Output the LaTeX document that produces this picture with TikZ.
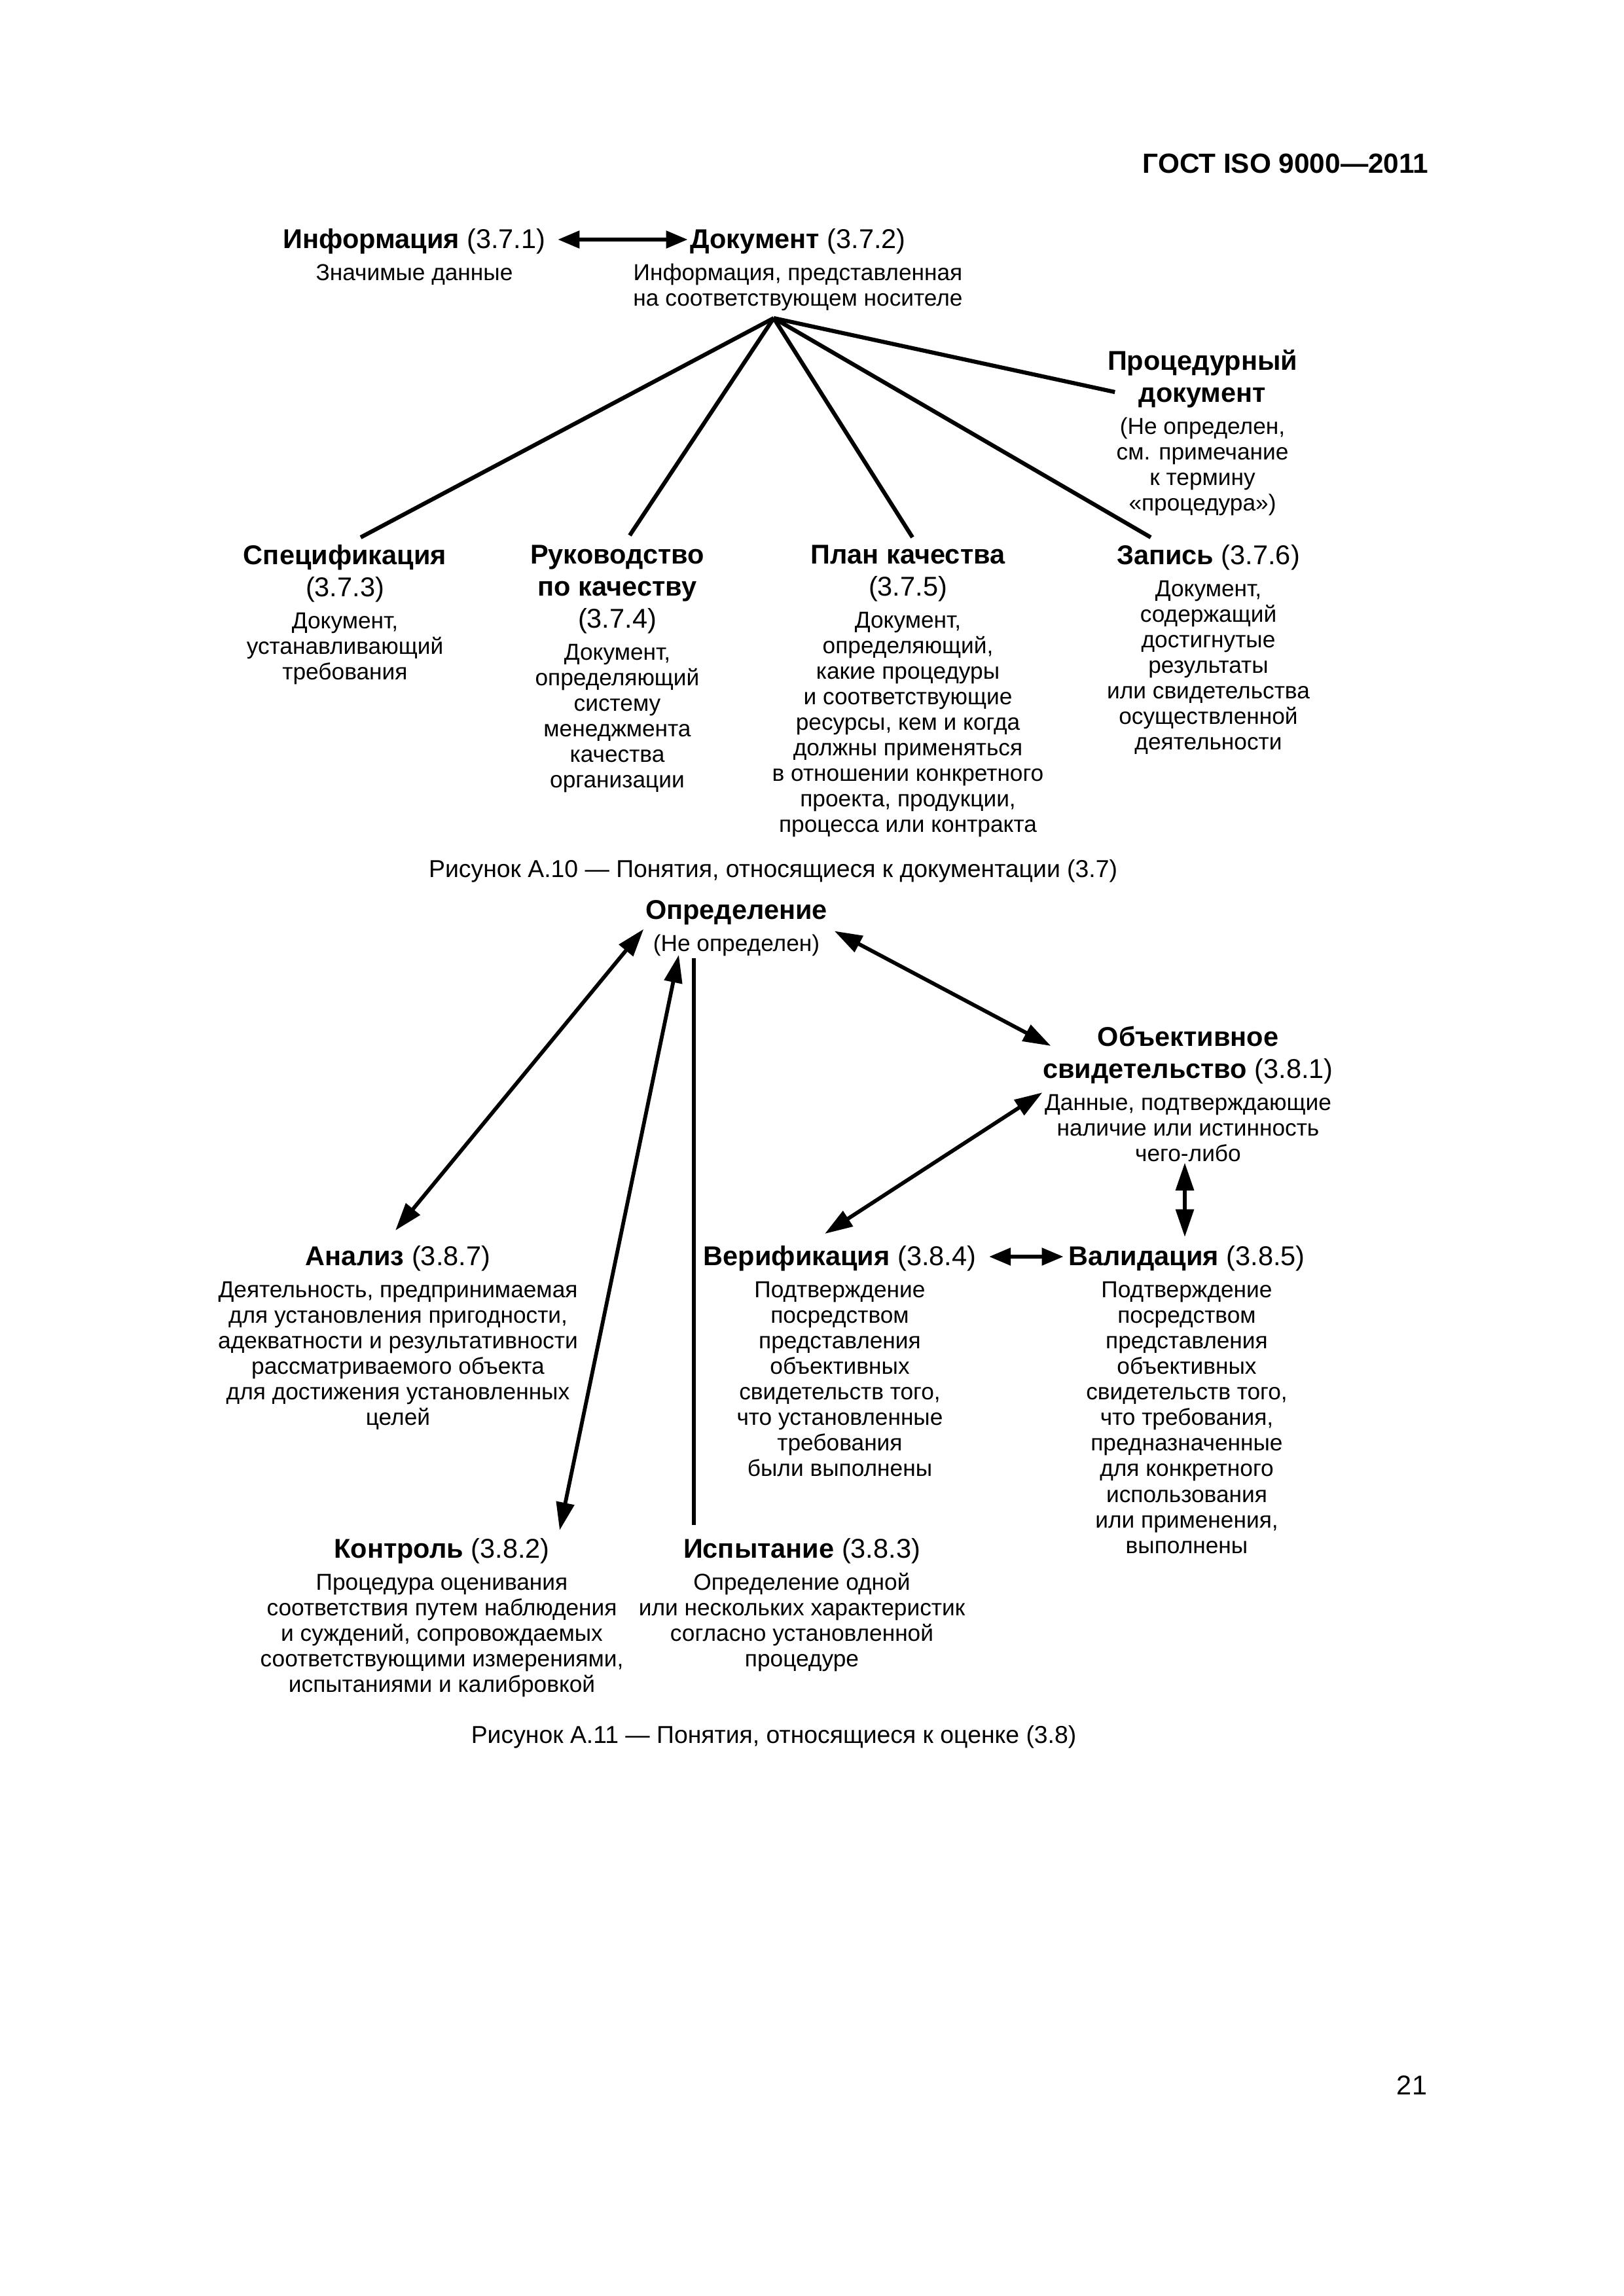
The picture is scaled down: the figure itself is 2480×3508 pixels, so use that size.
\documentclass[tikz,border=0pt]{standalone}
\usepackage{fontspec}
\setmainfont{Liberation Sans}
\usepackage{tikz}
\usetikzlibrary{arrows.meta,calc}

\newcommand{\hsz}{\fontsize{10}{12}\selectfont}
\newcommand{\bsz}{\fontsize{8.5}{9.4}\selectfont}
\newcommand{\hd}[1]{{\hsz\bfseries #1}}
\newcommand{\hdn}[2]{{\hsz\textbf{#1} #2}}
\newcommand{\cl}[1]{{\hsz #1}}

\begin{document}
\begin{tikzpicture}[x=0.0084677cm, y=-0.0084677cm,
    txt/.style={anchor=north, align=center, inner sep=0pt, font=\bsz},
    fanline/.style={line width=1.5pt},
    twoway/.style={line width=1.4pt, {Triangle[length=3.6mm,width=2.3mm]}-{Triangle[length=3.6mm,width=2.3mm]}},
    twowayfat/.style={line width=1.4pt, {Triangle[length=2.8mm,width=2.2mm]}-{Triangle[length=2.8mm,width=2.2mm]}}]
    \useasboundingbox (0,0) rectangle (2480,3508);

    \node[anchor=east, inner sep=0pt, font=\fontsize{10.2}{12}\selectfont\bfseries] (hdr) at (2183,250) {ГОСТ ISO 9000—2011};

    \node[txt] (info) at (633,349) {\hdn{Информация}{(3.7.1)}\\[2.4pt] Значимые данные};
    \node[txt] (doc) at (1219,349) {\hdn{Документ}{(3.7.2)}\\[2.4pt] Информация, представленная\\ на соответствующем носителе};
    \node[txt] (proc) at (1837,534) {\hd{Процедурный}\\[2.4pt] \hd{документ}\\[2.4pt] (Не определен,\\ см. примечание\\ к термину\\ «процедура»)};
    \node[txt] (spec) at (527,832) {\hd{Спецификация}\\[2.4pt] \cl{(3.7.3)}\\[2.4pt] Документ,\\ устанавливающий\\ требования};
    \node[txt] (manual) at (943,832) {\hd{Руководство}\\[2.4pt] \hd{по качеству}\\[2.4pt] \cl{(3.7.4)}\\[2.4pt] Документ,\\ определяющий\\ систему\\ менеджмента\\ качества\\ организации};
    \node[txt] (plan) at (1387,832) {\hd{План качества}\\[2.4pt] \cl{(3.7.5)}\\[2.4pt] Документ,\\ определяющий,\\ какие процедуры\\ и соответствующие\\ ресурсы, кем и когда\\ должны применяться\\ в отношении конкретного\\ проекта, продукции,\\ процесса или контракта};
    \node[txt] (record) at (1846,832) {\hdn{Запись}{(3.7.6)}\\[2.4pt] Документ,\\ содержащий\\ достигнутые\\ результаты\\ или свидетельства\\ осуществленной\\ деятельности};

    \draw[twowayfat] ($(info.north east)+(18,17)$) -- ($(doc.north west)+(84,17)$);
    \coordinate (apex) at ($(doc.south)+(-37,10)$);
    \draw[fanline] (apex) -- ($(spec.north)+(24,-11)$);
    \draw[fanline] (apex) -- ($(manual.north)+(19,-14)$);
    \draw[fanline] (apex) -- ($(plan.north)+(7,-11)$);
    \draw[fanline] (apex) -- ($(record.north)+(-88,-11)$);
    \draw[fanline] (apex) -- ($(proc.north west)+(12,65)$);

    \node[inner sep=0pt, font=\fontsize{9}{11}\selectfont] (cap10) at (1181,1331) {Рисунок А.10 — Понятия, относящиеся к документации (3.7)};

    \node[txt] (def) at (1125,1375) {\hd{Определение}\\[2.4pt] (Не определен)};
    \node[txt] (obj) at (1815,1567) {\hd{Объективное}\\[2.4pt] \hdn{свидетельство}{(3.8.1)}\\[2.4pt] Данные, подтверждающие\\ наличие или истинность\\ чего-либо};
    \node[txt] (anal) at (608,1903) {\hdn{Анализ}{(3.8.7)}\\[2.4pt] Деятельность, предпринимаемая\\ для установления пригодности,\\ адекватности и результативности\\ рассматриваемого объекта\\ для достижения установленных\\ целей};
    \node[txt] (ver) at (1283,1903) {\hdn{Верификация}{(3.8.4)}\\[2.4pt] Подтверждение\\ посредством\\ представления\\ объективных\\ свидетельств того,\\ что установленные\\ требования\\ были выполнены};
    \node[txt] (val) at (1813,1903) {\hdn{Валидация}{(3.8.5)}\\[2.4pt] Подтверждение\\ посредством\\ представления\\ объективных\\ свидетельств того,\\ что требования,\\ предназначенные\\ для конкретного\\ использования\\ или применения,\\ выполнены};
    \node[txt] (ctrl) at (675,2350) {\hdn{Контроль}{(3.8.2)}\\[2.4pt] Процедура оценивания\\ соответствия путем наблюдения\\ и суждений, сопровождаемых\\ соответствующими измерениями,\\ испытаниями и калибровкой};
    \node[txt] (test) at (1225,2350) {\hdn{Испытание}{(3.8.3)}\\[2.4pt] Определение одной\\ или нескольких характеристик\\ согласно установленной\\ процедуре};

    \draw[twoway] ($(anal.north)+(-4,-23)$) -- ($(def.west)+(-2,1)$);
    \draw[twoway] ($(ctrl.north)+(180,-12)$) -- ($(def.south)+(-88,-3)$);
    \draw[fanline] ($(test.north)+(-165,-20)$) -- ($(def.south)+(-65,2)$);
    \draw[twoway] ($(def.east)+(10,4)$) -- ($(obj.north west)+(13,31)$);
    \draw[twoway] ($(obj.west)+(0,-2)$) -- ($(ver.north)+(-23,-18)$);
    \draw[twoway] ($(obj.south)+(-5,1)$) -- ($(val.north)+(-3,-13)$);
    \draw[twowayfat] ($(ver.north east)+(19,17)$) -- ($(val.north west)+(-7,17)$);

    \node[inner sep=0pt, font=\fontsize{9}{11}\selectfont] (cap11) at (1182,2654) {Рисунок А.11 — Понятия, относящиеся к оценке (3.8)};

    \node[inner sep=0pt, font=\fontsize{10}{12}\selectfont] (pagenum) at (2157,3186) {21};
\end{tikzpicture}
\end{document}
